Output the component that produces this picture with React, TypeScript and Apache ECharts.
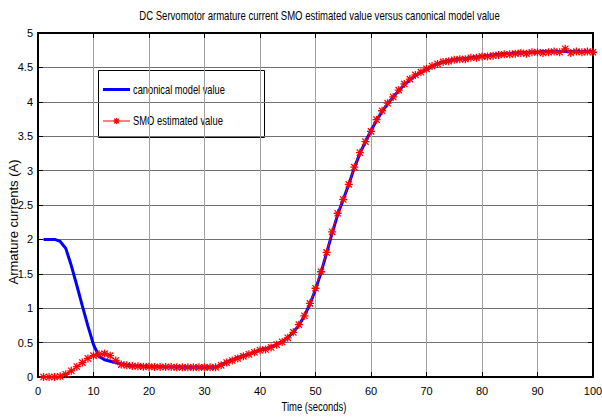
import React, { useEffect, useRef } from "react";
import * as echarts from "echarts";

const titleText = "DC Servomotor armature current SMO estimated value versus canonical model value";
const xAxisName = "Time (seconds)";
const yAxisName = "Armature currents (A)";
const seriesNames = ["canonical model value", "SMO estimated value"];

const timeSec = Array.from({ length: 100 }, (_, i) => i + 1);

const canonical = [
  2.0, 2.0, 2.0, 1.97, 1.87, 1.62, 1.33, 1.03, 0.74, 0.47,
  0.3, 0.25, 0.23, 0.21, 0.19, 0.17, 0.16, 0.16, 0.155, 0.15,
  0.15, 0.15, 0.145, 0.145, 0.145, 0.14, 0.14, 0.14, 0.14, 0.14,
  0.14, 0.14, 0.18, 0.22, 0.25, 0.28, 0.31, 0.33, 0.36, 0.39,
  0.41, 0.44, 0.47, 0.51, 0.57, 0.65, 0.75, 0.89, 1.06, 1.27,
  1.52, 1.8, 2.09, 2.36, 2.58, 2.8, 3.04, 3.25, 3.42, 3.58,
  3.73, 3.86, 3.97, 4.07, 4.16, 4.25, 4.32, 4.38, 4.43, 4.47,
  4.51, 4.55, 4.58, 4.6, 4.61, 4.62, 4.63, 4.64, 4.65, 4.66,
  4.67, 4.68, 4.69, 4.7, 4.7, 4.71, 4.71, 4.72, 4.72, 4.72,
  4.73, 4.73, 4.73, 4.73, 4.73, 4.73, 4.73, 4.73, 4.73, 4.73,
];

const smoEstimated = [
  0.0, 0.0, 0.0, 0.01, 0.04, 0.09, 0.15, 0.21, 0.27, 0.31,
  0.33, 0.34, 0.31, 0.24, 0.18, 0.17, 0.16, 0.155, 0.15, 0.15,
  0.145, 0.145, 0.145, 0.145, 0.14, 0.14, 0.14, 0.14, 0.14, 0.14,
  0.14, 0.14, 0.17, 0.21, 0.24, 0.27, 0.3, 0.33, 0.36, 0.39,
  0.4, 0.43, 0.47, 0.51, 0.57, 0.65, 0.76, 0.89, 1.07, 1.29,
  1.53, 1.81, 2.11, 2.38, 2.58, 2.8, 3.05, 3.26, 3.42, 3.57,
  3.74, 3.87, 3.98, 4.07, 4.17, 4.26, 4.33, 4.39, 4.43, 4.48,
  4.52, 4.55, 4.58, 4.59, 4.61, 4.62, 4.62, 4.64, 4.64, 4.66,
  4.66, 4.67, 4.68, 4.69, 4.69, 4.7, 4.71, 4.7, 4.72, 4.72,
  4.71, 4.72, 4.73, 4.72, 4.77, 4.71, 4.73, 4.72, 4.73, 4.72,
];

const ASTERISK =
  "path://M4.2,0H5.8V10H4.2Z M0,4.2H10V5.8H0Z M1.6,0.5L9.5,8.4L8.4,9.5L0.5,1.6Z M8.4,0.5L9.5,1.6L1.6,9.5L0.5,8.4Z";

const FONT = "'Liberation Sans', Arial, Helvetica, sans-serif";

function measure(text: string, size: number): number {
  const ctx = document.createElement("canvas").getContext("2d");
  if (!ctx) return text.length * size * 0.5;
  ctx.font = `${size}px ${FONT}`;
  return ctx.measureText(text).width;
}

export default function App() {
  const ref = useRef<HTMLDivElement>(null);

  useEffect(() => {
    document.body.style.margin = "0";
    if (!ref.current) return;
    const chart = echarts.init(ref.current, null, { renderer: "svg" });
    const blueData = timeSec.map((t, i) => [t, canonical[i]]);
    const redData = timeSec.map((t, i) => [t, smoEstimated[i]]);

    const fs = 12;
    const sTitle = 361 / measure(titleText, fs);
    const sX = 65 / measure(xAxisName, fs);
    const sY = 125 / measure(yAxisName, fs);
    const sL1 = 92 / measure(seriesNames[0], fs);
    const sL2 = 90 / measure(seriesNames[1], fs);

    const commonTicks = { show: true, inside: true, length: 5, lineStyle: { color: "#000", width: 1 } };
    const txt = (text: string, x: number, y: number, scaleX: number, align: string, rotation = 0) => ({
      type: "text",
      x,
      y,
      rotation,
      scaleX,
      style: {
        text,
        fill: "#000",
        font: `${fs}px ${FONT}`,
        textAlign: align,
        textVerticalAlign: "middle",
      },
    });

    const mk = (cx: number, cy: number, r: number) => [
      [-r, 0, r, 0],
      [0, -r, 0, r],
      [-r * 0.75, -r * 0.75, r * 0.75, r * 0.75],
      [-r * 0.75, r * 0.75, r * 0.75, -r * 0.75],
    ].map((s) => ({
      type: "line",
      shape: { x1: cx + s[0], y1: cy + s[1], x2: cx + s[2], y2: cy + s[3] },
      style: { stroke: "#ff0000", lineWidth: 1.3 },
    }));

    chart.setOption({
      animation: false,
      backgroundColor: "#fff",
      textStyle: { fontFamily: FONT },
      grid: { left: 38, right: 9, top: 33, bottom: 40, show: false, outerBoundsMode: "none", containLabel: false },
      xAxis: [
        {
          type: "value",
          min: 0,
          max: 100,
          interval: 10,
          axisLine: { show: true, onZero: false, lineStyle: { color: "#000", width: 2 } },
          axisTick: commonTicks,
          axisLabel: { color: "#000", fontSize: 11, fontFamily: FONT, margin: 8 },
          splitLine: { show: true, lineStyle: { color: "#a0a0a0", width: 1 } },
        },
        {
          type: "value",
          position: "top",
          min: 0,
          max: 100,
          interval: 10,
          axisLine: { show: true, onZero: false, lineStyle: { color: "#000", width: 2 } },
          axisTick: commonTicks,
          axisLabel: { show: false },
          splitLine: { show: false },
        },
      ],
      yAxis: [
        {
          type: "value",
          min: 0,
          max: 5,
          interval: 0.5,
          axisLine: { show: true, onZero: false, lineStyle: { color: "#000", width: 2 } },
          axisTick: commonTicks,
          axisLabel: { color: "#000", fontSize: 11, fontFamily: FONT, margin: 5 },
          splitLine: { show: true, lineStyle: { color: "#707070", width: 1 } },
        },
        {
          type: "value",
          position: "right",
          min: 0,
          max: 5,
          interval: 0.5,
          axisLine: { show: true, onZero: false, lineStyle: { color: "#000", width: 2 } },
          axisTick: commonTicks,
          axisLabel: { show: false },
          splitLine: { show: false },
        },
      ],
      graphic: [
        txt(titleText, 319.5, 16, sTitle, "center"),
        txt(xAxisName, 314, 407, sX, "center"),
        txt(yAxisName, 14, 222, sY, "center", Math.PI / 2),
        {
          type: "group",
          z: 100,
          children: [
            {
              type: "rect",
              shape: { x: 98.5, y: 70.5, width: 166, height: 67 },
              style: { fill: "#fff", stroke: "#000", lineWidth: 1 },
            },
            {
              type: "line",
              shape: { x1: 103, y1: 89.5, x2: 130, y2: 89.5 },
              style: { stroke: "#0000ff", lineWidth: 3 },
            },
            {
              type: "line",
              shape: { x1: 103, y1: 121, x2: 130, y2: 121 },
              style: { stroke: "#ff0000", lineWidth: 1 },
            },
            ...mk(116.5, 121, 3),
            txt(seriesNames[0], 133, 89.5, sL1, "left"),
            txt(seriesNames[1], 133, 121, sL2, "left"),
          ],
        },
      ],
      series: [
        {
          name: seriesNames[0],
          type: "line",
          data: blueData,
          showSymbol: false,
          symbol: "none",
          lineStyle: { color: "#0000ff", width: 3 },
          itemStyle: { color: "#0000ff" },
          z: 2,
        },
        {
          name: seriesNames[1],
          type: "line",
          data: redData,
          symbol: ASTERISK,
          symbolSize: 8,
          showSymbol: true,
          lineStyle: { color: "#ff0000", width: 1 },
          itemStyle: { color: "#ff0000" },
          z: 3,
        },
      ],
    });
    return () => chart.dispose();
  }, []);

  return <div ref={ref} style={{ width: 602, height: 417 }} />;
}
